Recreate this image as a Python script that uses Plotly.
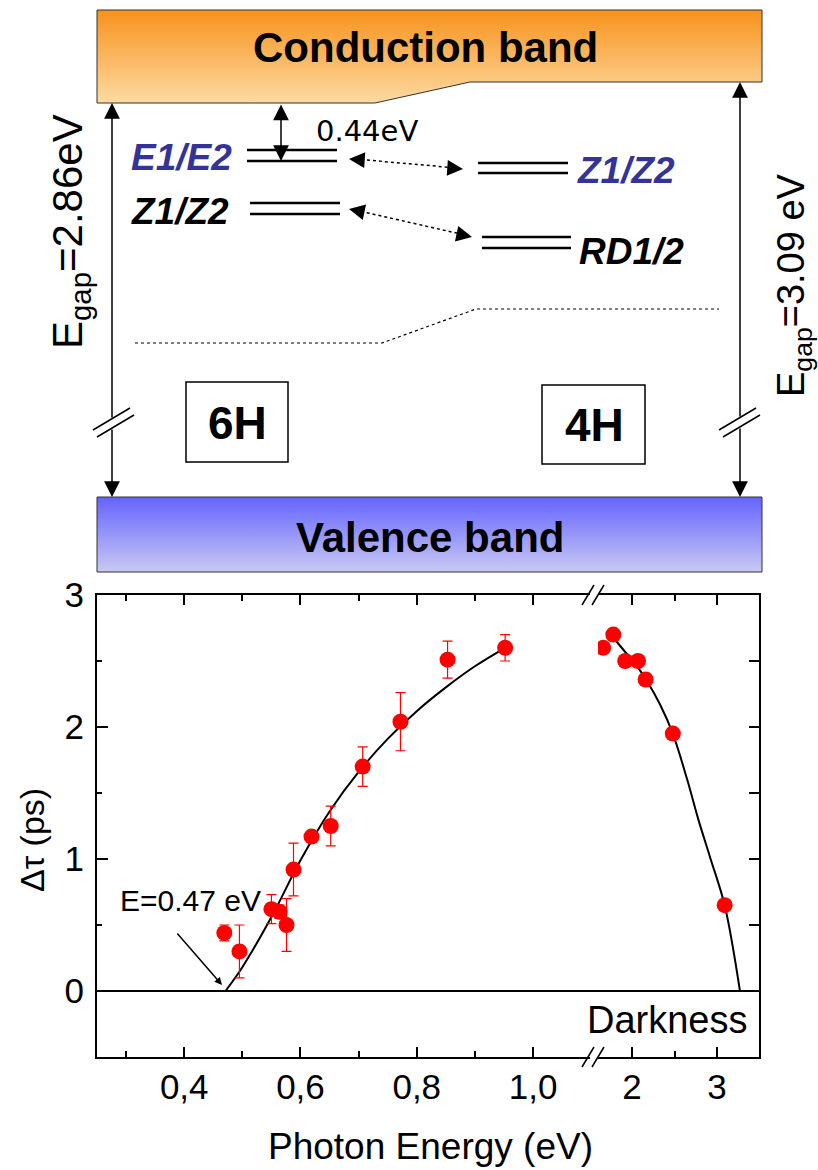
import plotly.graph_objects as go

W, H = 818, 1170

# ---------------- data ----------------
x_left = [0.469, 0.495, 0.550, 0.564, 0.576, 0.588, 0.619, 0.652, 0.707, 0.772, 0.853, 0.952]
y_left = [0.44, 0.30, 0.62, 0.60, 0.50, 0.92, 1.17, 1.25, 1.70, 2.04, 2.51, 2.60]
err_left = [0.06, 0.20, 0.11, 0.05, 0.20, 0.20, 0.03, 0.15, 0.15, 0.22, 0.14, 0.10]

x_right = [1.66, 1.78, 1.92, 2.07, 2.16, 2.48, 3.09]
y_right = [2.60, 2.70, 2.50, 2.50, 2.36, 1.95, 0.65]

fit_left_x = [0.471, 0.50, 0.55, 0.60, 0.65, 0.70, 0.75, 0.80, 0.85, 0.90, 0.952]
fit_left_y = [0.00, 0.18, 0.56, 0.99, 1.36, 1.66, 1.91, 2.12, 2.30, 2.46, 2.60]

fit_right_x = [1.776, 1.918, 2.07, 2.165, 2.33, 2.48, 2.65, 2.78, 2.92, 3.09, 3.27]
fit_right_y = [2.68, 2.57, 2.45, 2.36, 2.17, 1.95, 1.60, 1.30, 1.01, 0.65, 0.00]

left_tickvals = [0.4, 0.6, 0.8, 1.0]
left_ticktext = ["0,4", "0,6", "0,8", "1,0"]
left_minor = [0.3, 0.5, 0.7, 0.9]
right_tickvals = [2, 3]
right_ticktext = ["2", "3"]
right_minor = [2.5]
y_tickvals = [0, 1, 2, 3]
y_minor = [-0.5, 0.5, 1.5, 2.5]

FONT = "Liberation Sans, Arial, sans-serif"
RED = "#FF0000"
BLUE = "#333399"

fig = go.Figure()

# ---------------- band diagram (pixel-space overlay axes x3/y3) ----------------
fig.add_trace(go.Scatter(
    x=[97, 762, 762, 470, 375, 97, 97], y=[10, 10, 82, 82, 103, 103, 10],
    xaxis="x3", yaxis="y3", mode="lines", line=dict(color="#333333", width=1),
    fill="toself",
    fillgradient=dict(type="vertical", start=10, stop=103,
                      colorscale=[[0, "rgb(247,146,28)"], [1, "rgb(253,218,162)"]]),
    hoverinfo="skip"))
fig.add_trace(go.Scatter(
    x=[97, 762, 762, 97, 97], y=[497, 497, 572, 572, 497],
    xaxis="x3", yaxis="y3", mode="lines", line=dict(color="#333333", width=1),
    fill="toself",
    fillgradient=dict(type="vertical", start=497, stop=572,
                      colorscale=[[0, "rgb(100,100,255)"], [1, "rgb(200,200,242)"]]),
    hoverinfo="skip"))

# ---------------- chart traces ----------------
fig.add_trace(go.Scatter(x=fit_left_x, y=fit_left_y, mode="lines", line=dict(color="black", width=2, shape="spline"),
                         xaxis="x", yaxis="y", hoverinfo="skip"))
fig.add_trace(go.Scatter(x=x_left, y=y_left, mode="markers",
                         marker=dict(color=RED, size=16),
                         error_y=dict(type="data", array=err_left, color=RED, thickness=1.2, width=5),
                         xaxis="x", yaxis="y"))
fig.add_trace(go.Scatter(x=fit_right_x, y=fit_right_y, mode="lines", line=dict(color="black", width=2, shape="spline"),
                         xaxis="x2", yaxis="y2", hoverinfo="skip"))
fig.add_trace(go.Scatter(x=x_right, y=y_right, mode="markers",
                         marker=dict(color=RED, size=16), xaxis="x2", yaxis="y2"))

shapes = []
def pline(x0, y0, x1, y1, width=2, dash="solid", color="black"):
    shapes.append(dict(type="line", xref="x3", yref="y3", x0=x0, y0=y0, x1=x1, y1=y1,
                       line=dict(color=color, width=width, dash=dash)))

# level lines
for yy in (150, 161):
    pline(247, yy, 337, yy, 2.5)
for yy in (203, 214):
    pline(250, yy, 340, yy, 2.5)
for yy in (163, 173):
    pline(478, yy, 568, yy, 2.5)
for yy in (237, 248):
    pline(482, yy, 571, yy, 2.5)
# dotted arrow shafts
pline(355, 159, 457, 168, 1.5, "dot")
pline(355, 210, 465, 235, 1.5, "dot")
# valence-band edge dotted line
shapes.append(dict(type="path", xref="x3", yref="y3",
                   path="M135,343 L382,343 L476,309 L719,309",
                   line=dict(color="black", width=1.2, dash="dot")))
# boxes
shapes.append(dict(type="rect", xref="x3", yref="y3", x0=186, y0=382, x1=288, y1=462,
                   line=dict(color="black", width=1.5)))
shapes.append(dict(type="rect", xref="x3", yref="y3", x0=542, y0=385, x1=645, y1=464,
                   line=dict(color="black", width=1.5)))
# break marks on gap arrows
pline(93, 430, 130, 408, 1.5)
pline(97, 437, 134, 415, 1.5)
pline(719, 430, 756, 408, 1.5)
pline(723, 437, 760, 415, 1.5)
# break marks on chart axes
pline(582, 605, 594, 585, 1.5)
pline(592, 605, 604, 585, 1.5)
pline(582, 1067, 594, 1047, 1.5)
pline(592, 1067, 604, 1047, 1.5)
# zero line
shapes.append(dict(type="line", xref="paper", yref="y", x0=97 / W, x1=759 / W, y0=0, y1=0,
                   line=dict(color="black", width=2)))

annotations = []
def arrow(hx, hy, tx, ty, both=False, width=1.5, size=2.1):
    d = dict(xref="x3", yref="y3", axref="x3", ayref="y3", x=hx, y=hy, ax=tx, ay=ty,
             text="", showarrow=True, arrowhead=2, arrowsize=size, arrowwidth=width,
             arrowcolor="black")
    if both:
        d.update(arrowside="end+start", startarrowhead=2, startarrowsize=size)
    annotations.append(d)

# gap arrows (split at the break)
arrow(112, 103, 112, 419)
arrow(112, 497, 112, 428)
arrow(740, 82, 740, 418)
arrow(740, 497, 740, 427)
# 0.44 eV arrow
arrow(281, 161, 281, 103, both=True)
# dotted arrow heads
arrow(349, 159, 363, 160)
arrow(463, 169, 449, 168)
arrow(349, 209, 363, 212)
arrow(472, 237, 458, 234)

def txt(x, y, s, size, color="black", family=FONT, angle=0):
    annotations.append(dict(xref="x3", yref="y3", x=x, y=y, text=s, showarrow=False,
                            xanchor="center", yanchor="middle", textangle=angle,
                            font=dict(family=family, size=size, color=color)))

txt(425, 47, "<b>Conduction band</b>", 42)
txt(430, 537, "<b>Valence band</b>", 42)
txt(237, 423, "<b>6H</b>", 46)
txt(594, 425, "<b>4H</b>", 46)
txt(367, 131, "0.44eV", 29, family="DejaVu Sans, sans-serif")
txt(181, 157, "<b><i>E1/E2</i></b>", 37, color=BLUE)
txt(180, 211, "<b><i>Z1/Z2</i></b>", 37)
txt(626, 170, "<b><i>Z1/Z2</i></b>", 37, color=BLUE)
txt(631, 251, "<b><i>RD1/2</i></b>", 37)
txt(70, 232, "E<sub>gap</sub>=2.86eV", 42, angle=-90)
txt(794, 285, "E<sub>gap</sub>=3.09 eV", 38, angle=-90)

# chart texts
txt(190, 900, "E=0.47 eV", 30)
txt(667, 1020, "Darkness", 38)
txt(32, 840, "Δτ (ps)", 34, angle=-90)
txt(430, 1146, "Photon Energy (eV)", 37)
annotations.append(dict(xref="x3", yref="y3", axref="x3", ayref="y3", x=222, y=985, ax=176, ay=932,
                        text="", showarrow=True, arrowhead=2, arrowsize=1.0, arrowwidth=1.5,
                        arrowcolor="black"))

ydom = [1 - 1057 / H, 1 - 595 / H]
axis_common = dict(showline=True, linewidth=2, linecolor="black", ticks="inside", tickwidth=1.5,
                   tickcolor="black", showgrid=False, zeroline=False, automargin=False,
                   tickfont=dict(family=FONT, size=35, color="black"))

fig.update_layout(
    width=W, height=H, autosize=False, margin=dict(l=0, r=0, t=0, b=0, pad=0),
    paper_bgcolor="white", plot_bgcolor="rgba(0,0,0,0)", showlegend=False,
    font=dict(family=FONT, color="black"),
    xaxis=dict(domain=[97 / W, 590 / W], range=[0.25, 1.098], anchor="y", mirror="ticks",
               tickmode="array", tickvals=left_tickvals, ticktext=left_ticktext, ticklen=10,
               ticklabelstandoff=-2,
               minor=dict(ticks="inside", tickmode="array", tickvals=left_minor, ticklen=6,
                          tickwidth=1.5, tickcolor="black"),
               **axis_common),
    xaxis2=dict(domain=[598 / W, 759 / W], range=[1.6, 3.494], anchor="y2", mirror="ticks",
                tickmode="array", tickvals=right_tickvals, ticktext=right_ticktext, ticklen=10,
                ticklabelstandoff=-2,
                minor=dict(ticks="inside", tickmode="array", tickvals=right_minor, ticklen=6,
                           tickwidth=1.5, tickcolor="black"),
                **axis_common),
    yaxis=dict(domain=ydom, range=[-0.5, 3], anchor="x", tickmode="array", tickvals=y_tickvals,
               ticklen=11, ticklabelstandoff=4,
               minor=dict(ticks="inside", tickmode="array", tickvals=y_minor, ticklen=5,
                          tickwidth=1.5, tickcolor="black"),
               **axis_common),
    yaxis2=dict(domain=ydom, matches="y", anchor="x2", side="right", tickmode="array",
                tickvals=y_tickvals + y_minor, ticklen=10, showticklabels=False,
                **axis_common),
    xaxis3=dict(domain=[0, 1], range=[0, W], visible=False, anchor="y3", fixedrange=True,
                automargin=False),
    yaxis3=dict(domain=[0, 1], range=[H, 0], visible=False, anchor="x3", fixedrange=True,
                automargin=False),
    shapes=shapes, annotations=annotations,
)

fig.write_html("out.html")
